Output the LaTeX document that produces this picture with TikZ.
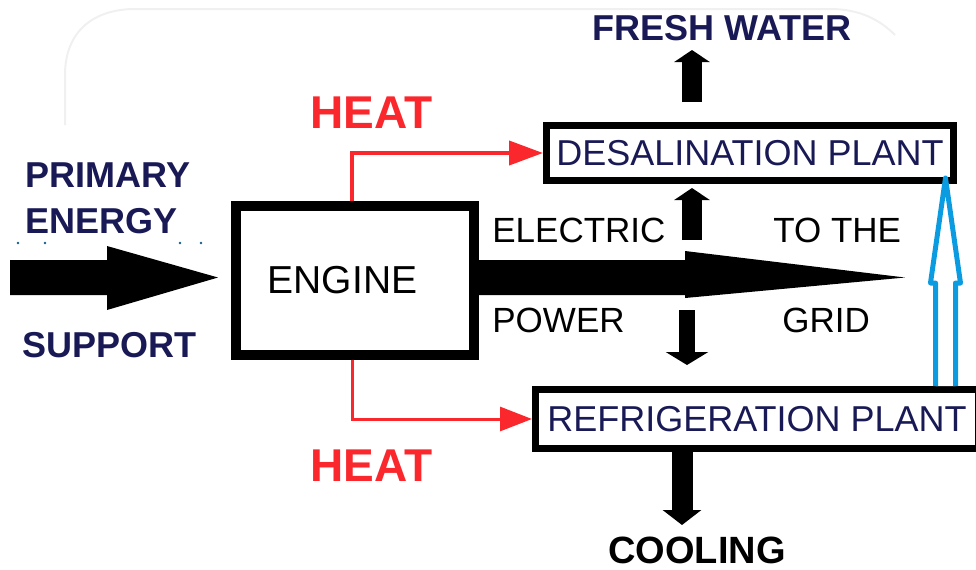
\documentclass[tikz,border=0pt]{standalone}
\usepackage{fontspec}
\setmainfont{Liberation Sans}
\usetikzlibrary{positioning,arrows.meta,calc}

\definecolor{navytext}{RGB}{25,25,85}
\definecolor{heatred}{RGB}{250,40,45}
\definecolor{gridblue}{RGB}{10,155,225}
\newcommand{\fsz}[1]{\fontsize{#1}{#1}\selectfont}

\begin{document}
\begin{tikzpicture}[
  x=0.5pt, y=-0.5pt,
  >=Latex,
  lbl/.style={inner sep=0pt, anchor=base west},
  plant/.style={draw, line width=3.5pt, inner sep=0pt, text=navytext, font=\fsz{18pt}},
  heat/.style={draw=heatred, line width=2pt, -{Triangle[length=17pt, width=12pt]}},
  blk/.style={line width=10pt, -{Triangle[length=6pt, width=17.5pt]}}
]
\useasboundingbox (0,0) rectangle (976,569);
\clip (0,0) rectangle (976,569);

% faint frame
\draw[gray!12, line width=1pt] (65,125) -- (65,75) .. controls (65,30) and (95,9) .. (135,9)
  -- (830,9) .. controls (860,9) and (880,20) .. (895,35);

% Boxes
\node[draw, line width=5pt, minimum width=119pt, minimum height=74.5pt, font=\fsz{19.5pt}] (engine) at (355,280.5) {ENGINE\kern12.5pt};
\node[plant, minimum width=203.5pt, minimum height=27.5pt] (desal) at (750,153) {DESALINATION PLANT};
\node[plant, minimum width=221.5pt, minimum height=29.5pt] (refrig) at (757,419) {REFRIGERATION PLANT};

% Labels
\node[lbl, text=navytext, font=\bfseries\fsz{18pt}] (primary) at (25,187) {PRIMARY};
\node[lbl, text=navytext, font=\bfseries\fsz{18pt}] (energy) at (25,233) {ENERGY};
\node[lbl, text=navytext, font=\bfseries\fsz{18pt}] (support) at (22,357) {SUPPORT};
\node[lbl, text=heatred, font=\bfseries\fsz{23pt}] (heatup) at (310,128) {HEAT};
\node[lbl, text=heatred, font=\bfseries\fsz{23pt}] (heatdn) at (310,481) {HEAT};
\node[lbl, font=\fsz{17.5pt}] (electric) at (492,242) {ELECTRIC};
\node[lbl, font=\fsz{17.5pt}] (power) at (492,332) {POWER};
\node[lbl, font=\fsz{17.5pt}] (tothe) at (773,242) {TO THE};
\node[lbl, font=\fsz{17.5pt}] (grid) at (782,332) {GRID};
\node[lbl, text=navytext, font=\bfseries\fsz{18pt}] (fresh) at (592,40) {FRESH WATER};
\node[lbl, font=\bfseries\fsz{19pt}] (cooling) at (608,563) {COOLING};

% dots under ENERGY
\foreach \dx in {18,45,180,201}
  \fill[navytext!70!cyan] (\dx,243) circle (1.3);

% primary energy in
\coordinate (src) at (10,277.5);
\fill (src) ++(0,-17.5) -- ++(97,0) -- ++(0,-14) -- ++(111,31.5) -- ++(-111,32.5)
  -- ++(0,-15) -- ++(-97,0) -- cycle;

% electric power to the grid
\coordinate (pwr) at ($(engine.east)+(-4,-3)$);
\fill (pwr) ++(0,-17.5) -- ++(210,0) -- ++(0,-9) -- ++(220,26.5) -- ++(-220,20.5)
  -- ++(0,-3) -- ++(-210,0) -- cycle;

% heat
\draw[heat] ($(engine.north)+(-3,0)$) |- (desal.west);
\draw[heat, line width=1.5pt, -{Triangle[length=16pt, width=12pt]}] ($(engine.south)+(-3,0)$) |- (refrig.west);

% power to the plants
\draw[blk] ($(desal.south)+(-58,56)$) -- ++(0,-52);
\draw[blk, line width=8pt, -{Triangle[length=6.5pt, width=21pt]}] ($(refrig.north)+(-70,-76)$) -- ++(0,55);

% outputs
\draw[blk] ($(desal.north)+(-58,-20)$) -- ++(0,-52);
\draw[blk, line width=10.5pt, -{Triangle[length=7.5pt, width=19pt]}] ($(refrig.south)+(-75,0)$) -- ++(0,73);

% refrigeration to desalination (hollow)
\filldraw[draw=gridblue, fill=white, line width=2.5pt, line join=round]
  ($(refrig.north)+(198.5,0)$) -- ++(0,-103) -- ++(5,0) -- ($(desal.south east)+(-11.5,-6)$)
  -- ++(-15,105) -- ++(5,0) -- ++(0,103);

\end{tikzpicture}
\end{document}
